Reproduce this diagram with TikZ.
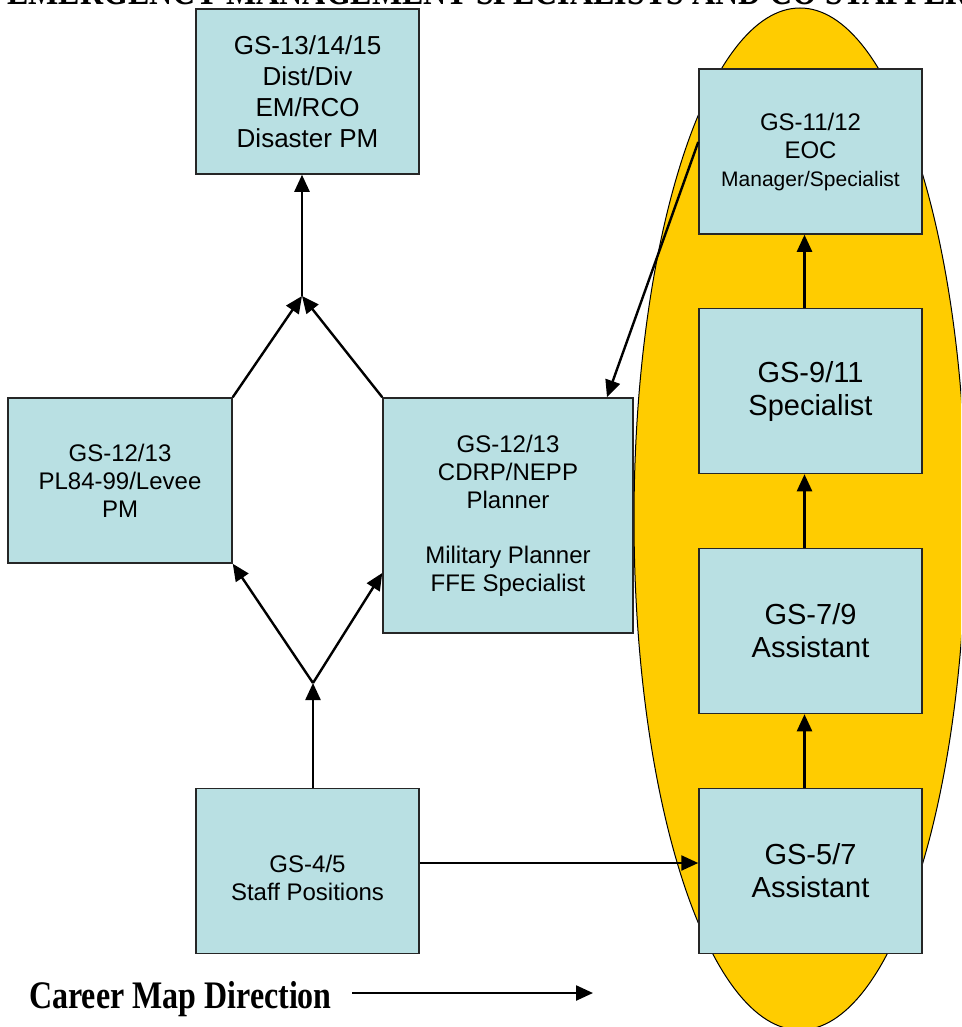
\documentclass[tikz,border=0pt]{standalone}
\usepackage{fontspec}
\setmainfont{Liberation Sans}
\newfontfamily\mapfont[FakeStretch=0.82]{Liberation Serif}
\usetikzlibrary{arrows.meta,calc}
\definecolor{boxblue}{RGB}{185,224,227}
\definecolor{ovalgold}{RGB}{255,204,0}

\begin{document}
\begin{tikzpicture}[x=1pt,y=-1pt,
    gsbox/.style={draw=black!85, line width=1.5pt, fill=boxblue, align=center, inner sep=0pt,
      minimum width=223pt, minimum height=165pt, font=\fontsize{24}{28}\selectfont},
    bigtext/.style={font=\fontsize{29}{33}\selectfont},
    arr/.style={line width=2.4pt, -{Triangle[length=17pt,width=15pt]}},
    maptext/.style={anchor=base west, inner sep=0pt, font=\mapfont\bfseries\fontsize{39}{39}\selectfont}]
        \useasboundingbox (0,0) rectangle (961,1027);
        \clip (0,0) rectangle (961,1027);

        % Draw the title, cut off by the top of the page
        \node[maptext] (title) at (7,5) {EMERGENCY MANAGEMENT SPECIALISTS AND CO STAFFER};

        % Draw the oval behind the right column
        \draw[fill=ovalgold, line width=1pt] (800,519) ellipse [x radius=166, y radius=511];

        % Draw the left and middle boxes
        \node[gsbox, font=\fontsize{26}{31}\selectfont] (top) at (307.5,91.5) {GS-13/14/15\\Dist/Div\\EM/RCO\\Disaster PM};
        \node[gsbox, minimum width=224pt] (pl) at (120,480.5) {GS-12/13\\PL84-99/Levee\\PM};
        \node[gsbox, minimum width=250pt, minimum height=235pt] (cdrp) at (508,515.5)
            {GS-12/13\\CDRP/NEPP\\Planner\\[27pt]Military Planner\\FFE Specialist};
        \node[gsbox, text height=59pt] (staffpos) at (307.5,871) {GS-4/5\\Staff Positions};

        % Draw the right column of boxes
        \node[gsbox] (eoc) at (810.5,151.5) {GS-11/12\\EOC\\{\fontsize{21}{25}\selectfont Manager/Specialist}};
        \foreach \name/\ypos/\grade/\job in {s911/391/{9/11}/Specialist, s79/631/{7/9}/Assistant, s57/871/{5/7}/Assistant} {
            \node[gsbox, bigtext] (\name) at (810.5,\ypos) {GS-\grade\\\job};
        }

        % Junctions where the branches meet
        \coordinate (jlow) at (313,683);
        \coordinate (jtop) at (302,296);

        % Draw the branches on the left
        \draw[arr] (staffpos.north -| jlow) -- (jlow);
        \draw[arr] (jlow) -- (pl.south east);
        \draw[arr] (jlow) -- ([yshift=-57.5pt]cdrp.west);
        \draw[arr] (pl.north east) -- (jtop);
        \draw[arr] (cdrp.north west) -- (jtop);
        \draw[arr] (jtop) -- (jtop |- top.south);

        % Draw the arrows into and out of the oval
        \draw[arr] ([yshift=9.5pt]eoc.west) -- ([xshift=99pt]cdrp.north);
        \draw[arr] ([yshift=8pt]staffpos.east) -- ([yshift=8pt]s57.west);
        \foreach \from/\to in {s57/s79, s79/s911, s911/eoc} {
            \draw[arr] ([xshift=-6pt]\from.north) -- ([xshift=-6pt]\to.south);
        }

        % Draw the direction key
        \node[maptext] (legend) at (29,1008) {Career Map Direction};
        \coordinate (dirstart) at (352,993);
        \coordinate (dirend) at (593,993);
        \draw[arr] (dirstart) -- (dirend);
\end{tikzpicture}
\end{document}
